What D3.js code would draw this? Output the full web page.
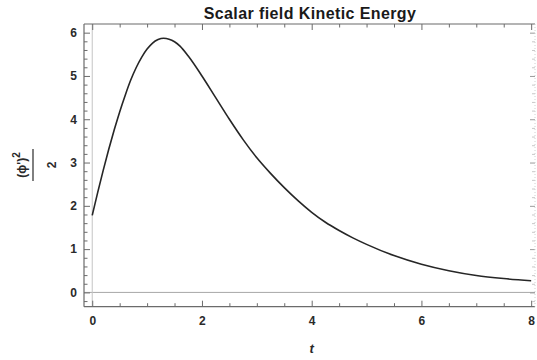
<!DOCTYPE html>
<html><head><meta charset="utf-8">
<script src="https://cdn.jsdelivr.net/npm/d3@7"></script>
<style>
html,body{margin:0;padding:0;background:#fff;}
svg{display:block;font-family:"Liberation Sans",Arial,sans-serif;}
</style></head>
<body>
<svg id="chart" width="537" height="360"></svg>
<script>
const title = "Scalar field Kinetic Energy";
const tValues = [0, 0.1, 0.2, 0.3, 0.4, 0.5, 0.6, 0.7, 0.8, 0.9, 1.0, 1.1, 1.2, 1.3, 1.4, 1.5, 1.6, 1.75, 2.0, 2.25, 2.5, 2.75, 3.0, 3.25, 3.5, 3.75, 4.0, 4.25, 4.5, 4.75, 5.0, 5.5, 6.0, 6.5, 7.0, 7.5, 8.0];
const keValues = [1.78, 2.31, 2.82, 3.3, 3.75, 4.17, 4.55, 4.9, 5.19, 5.43, 5.62, 5.76, 5.84, 5.87, 5.85, 5.79, 5.69, 5.46, 5.0, 4.5, 4.0, 3.53, 3.11, 2.75, 2.42, 2.12, 1.85, 1.62, 1.43, 1.26, 1.11, 0.85, 0.65, 0.5, 0.39, 0.32, 0.27];
const xTicks = [0, 2, 4, 6, 8];
const yTicks = [0, 1, 2, 3, 4, 5, 6];
const xMinorTicks = [0.5, 1, 1.5, 2.5, 3, 3.5, 4.5, 5, 5.5, 6.5, 7, 7.5];
const yMinorTicks = [-0.2, 0.2, 0.4, 0.6, 0.8, 1.2, 1.4, 1.6, 1.8, 2.2, 2.4, 2.6, 2.8, 3.2, 3.4, 3.6, 3.8, 4.2, 4.4, 4.6, 4.8, 5.2, 5.4, 5.6, 5.8];
const xLabel = "t";

const svg = d3.select("#chart");
const L = 84, R = 535, T = 24, B = 306.7;
const x = d3.scaleLinear().domain([-0.15, 8.07]).range([L, R]);
const y = d3.scaleLinear().domain([-0.33, 6.2]).range([B, T]);
const frameColor = "#6b6b6b";

// axes through origin
svg.append("line").attr("x1", L).attr("x2", R).attr("y1", y(0)).attr("y2", y(0))
  .attr("stroke", "#a8a8a8").attr("stroke-width", 1);
svg.append("line").attr("x1", x(0)).attr("x2", x(0)).attr("y1", T).attr("y2", B)
  .attr("stroke", "#c4c4c4").attr("stroke-width", 1);

function styleAxis(g, labels) {
  g.select(".domain").remove();
  g.selectAll(".tick line").attr("stroke", frameColor).attr("stroke-width", 1);
  g.selectAll(".tick text").attr("fill", "#2a2a2a").style("font-size", "12px").style("font-weight", "bold");
  if (!labels) g.selectAll(".tick text").remove();
}

// bottom
svg.append("g").attr("transform", `translate(0,${B})`)
  .call(d3.axisBottom(x).tickValues(xTicks).tickSize(-6).tickPadding(10).tickFormat(d3.format("d")))
  .call(g => styleAxis(g, true));
svg.append("g").attr("transform", `translate(0,${B})`)
  .call(d3.axisBottom(x).tickValues(xMinorTicks).tickSize(-3.5))
  .call(g => styleAxis(g, false));
// top
svg.append("g").attr("transform", `translate(0,${T})`)
  .call(d3.axisTop(x).tickValues(xTicks).tickSize(-6))
  .call(g => styleAxis(g, false));
svg.append("g").attr("transform", `translate(0,${T})`)
  .call(d3.axisTop(x).tickValues(xMinorTicks).tickSize(-3.5))
  .call(g => styleAxis(g, false));
// left
svg.append("g").attr("transform", `translate(${L},0)`)
  .call(d3.axisLeft(y).tickValues(yTicks).tickSize(-6).tickPadding(7).tickFormat(d3.format("d")))
  .call(g => styleAxis(g, true));
svg.append("g").attr("transform", `translate(${L},0)`)
  .call(d3.axisLeft(y).tickValues(yMinorTicks).tickSize(-3.5))
  .call(g => styleAxis(g, false));
// right (faint)
svg.append("g").attr("transform", `translate(${R},0)`)
  .call(d3.axisRight(y).tickValues(yTicks).tickSize(-5))
  .call(g => { styleAxis(g, false); g.selectAll(".tick line").attr("stroke", "#9a9a9a"); });
svg.append("g").attr("transform", `translate(${R},0)`)
  .call(d3.axisRight(y).tickValues(yMinorTicks).tickSize(-3))
  .call(g => { styleAxis(g, false); g.selectAll(".tick line").attr("stroke", "#c8c8c8"); });

// frame
svg.append("line").attr("x1", L).attr("x2", R).attr("y1", B).attr("y2", B).attr("stroke", frameColor).attr("stroke-width", 1.2);
svg.append("line").attr("x1", L).attr("x2", R).attr("y1", T).attr("y2", T).attr("stroke", frameColor).attr("stroke-width", 1.2);
svg.append("line").attr("x1", L).attr("x2", L).attr("y1", T).attr("y2", B).attr("stroke", frameColor).attr("stroke-width", 1.2);
svg.append("line").attr("x1", R).attr("x2", R).attr("y1", T).attr("y2", B).attr("stroke", "#d0d0d0").attr("stroke-width", 1).attr("stroke-dasharray", "1,2");

// curve
const data = tValues.map((t, i) => ({t, v: keValues[i]}));
svg.append("path").datum(data)
  .attr("fill", "none").attr("stroke", "#262626").attr("stroke-width", 1.6)
  .attr("d", d3.line().x(d => x(d.t)).y(d => y(d.v)).curve(d3.curveMonotoneX));

// title
svg.append("text").attr("x", 310).attr("y", 18.5).attr("text-anchor", "middle")
  .style("font-size", "16px").style("font-weight", "bold").attr("fill", "#1a1a1a")
  .style("letter-spacing", "0.4px").text(title);

// x label
svg.append("text").attr("x", x(4)).attr("y", 353).attr("text-anchor", "middle")
  .style("font-size", "13px").style("font-weight", "bold").style("font-style", "italic")
  .attr("fill", "#2a2a2a").text(xLabel);

// y label: fraction (φ')^2 / 2
const yl = svg.append("g").attr("transform", "translate(33,165) rotate(-90)");
const num = yl.append("text").attr("x", 0).attr("y", -7.5).attr("text-anchor", "middle")
  .style("font-size", "12px").style("font-weight", "bold").attr("fill", "#2a2a2a");
num.append("tspan").text("(\u03D5')");
num.append("tspan").attr("dy", -6).style("font-size", "10px").text("2");
yl.append("line").attr("x1", -16).attr("x2", 16).attr("y1", 0).attr("y2", 0)
  .attr("stroke", "#2a2a2a").attr("stroke-width", 1.2);
yl.append("text").attr("x", 0).attr("y", 23).attr("text-anchor", "middle")
  .style("font-size", "12px").style("font-weight", "bold").attr("fill", "#2a2a2a").text("2");
</script>
</body></html>
